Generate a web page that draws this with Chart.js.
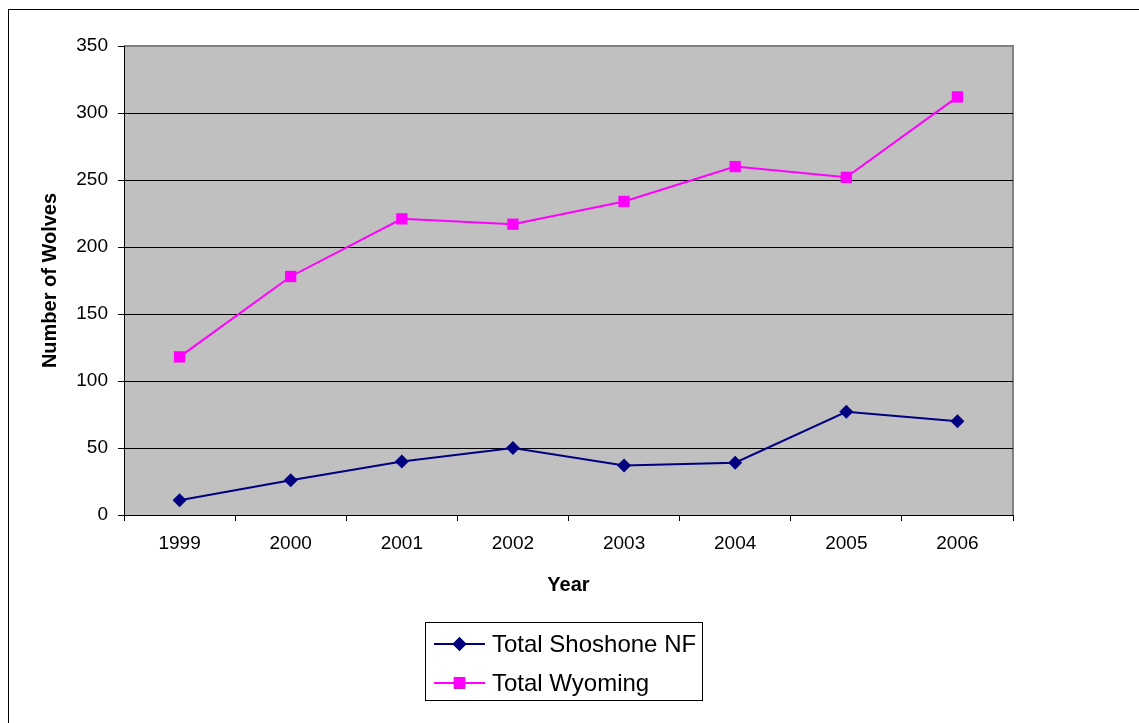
<!DOCTYPE html>
<html>
<head>
<meta charset="utf-8">
<title>Wolf counts</title>
<script src="https://cdn.jsdelivr.net/npm/chart.js@4"></script>
<style>
  html, body { margin: 0; padding: 0; background: #fff; overflow: hidden; }
  #wrap { position: relative; width: 1139px; height: 723px; }
</style>
</head>
<body>
<div id="wrap"><canvas id="wolfChart" width="1139" height="723"></canvas></div>
<script>
const years = ["1999", "2000", "2001", "2002", "2003", "2004", "2005", "2006"];
const shoshone = [11, 26, 40, 50, 37, 39, 77, 70];
const wyoming = [118, 178, 221, 217, 234, 260, 252, 312];
const yTicks = [0, 50, 100, 150, 200, 250, 300, 350];

const FONT = "'Liberation Sans', Arial, sans-serif";
const NAVY = "#000080";
const PINK = "#FF00FF";

// grey plot background plus the grey top/right frame
const plotArea = {
    id: "plotArea",
    beforeDraw(chart) {
        const { ctx, chartArea: a } = chart;
        ctx.save();
        ctx.fillStyle = "#C0C0C0";
        ctx.fillRect(a.left, a.top, a.right - a.left, a.bottom - a.top);
        ctx.strokeStyle = "#808080";
        ctx.lineWidth = 2;
        ctx.beginPath();
        ctx.moveTo(a.left, a.top);
        ctx.lineTo(a.right, a.top);
        ctx.lineTo(a.right, a.bottom);
        ctx.stroke();
        ctx.restore();
    }
};

// boxed legend under the axis + outer frame
const boxLegend = {
    id: "boxLegend",
    afterDraw(chart) {
        const ctx = chart.ctx;
        ctx.save();
        ctx.strokeStyle = "#000";
        ctx.lineWidth = 1;
        ctx.strokeRect(8.5, 9.5, 1200, 800);
        ctx.strokeRect(425.5, 622.5, 277, 78);

        const rows = [644, 683];
        chart.data.datasets.forEach((ds, i) => {
            const y = rows[i];
            ctx.strokeStyle = ds.borderColor;
            ctx.lineWidth = 2;
            ctx.beginPath();
            ctx.moveTo(434, y);
            ctx.lineTo(485, y);
            ctx.stroke();
            Chart.helpers.drawPoint(ctx, {
                pointStyle: ds.pointStyle,
                radius: ds.pointRadius,
                rotation: 0,
                borderWidth: 0
            }, 459.5, y);
            ctx.fillStyle = ds.pointBackgroundColor;
            ctx.fill();
            ctx.fillStyle = "#000";
            ctx.font = "24px " + FONT;
            ctx.textAlign = "left";
            ctx.textBaseline = "middle";
            ctx.fillText(ds.label, 492, y + 1);
        });
        ctx.restore();
    }
};

new Chart(document.getElementById("wolfChart"), {
    type: "line",
    data: {
        labels: years,
        datasets: [
            {
                label: "Total Shoshone NF",
                data: shoshone,
                borderColor: NAVY,
                backgroundColor: NAVY,
                pointBackgroundColor: NAVY,
                pointBorderColor: NAVY,
                pointStyle: "rectRot",
                pointRadius: 7,
                pointBorderWidth: 0,
                borderWidth: 2,
                tension: 0
            },
            {
                label: "Total Wyoming",
                data: wyoming,
                borderColor: PINK,
                backgroundColor: PINK,
                pointBackgroundColor: PINK,
                pointBorderColor: PINK,
                pointStyle: "rect",
                pointRadius: 8,
                pointBorderWidth: 0,
                borderWidth: 2,
                tension: 0
            }
        ]
    },
    options: {
        responsive: false,
        animation: false,
        events: [],
        layout: { padding: { top: 46, right: 126, left: 0, bottom: 0 } },
        plugins: {
            legend: { display: false },
            tooltip: { enabled: false }
        },
        scales: {
            x: {
                type: "category",
                offset: true,
                afterFit(scale) { scale.height = 208; },
                grid: {
                    offset: true,
                    drawOnChartArea: false,
                    drawTicks: true,
                    tickLength: 6,
                    color: "#000",
                    tickColor: "#000"
                },
                border: { display: true, color: "#000", width: 1 },
                ticks: {
                    color: "#000",
                    padding: 11,
                    maxRotation: 0,
                    font: { family: FONT, size: 19 }
                },
                title: {
                    display: true,
                    text: "Year",
                    color: "#000",
                    font: { family: FONT, size: 20, weight: "bold" },
                    padding: { top: 0, bottom: 126 }
                }
            },
            y: {
                min: 0,
                max: 350,
                afterFit(scale) { scale.width = 124; },
                afterBuildTicks(scale) {
                    scale.ticks = yTicks.map(v => ({ value: v }));
                },
                grid: {
                    color: ctx => (ctx.tick && ctx.tick.value === 350) ? "rgba(0,0,0,0)" : "#000",
                    tickColor: "#000",
                    tickLength: 6,
                    lineWidth: 1
                },
                border: { display: true, color: "#000", width: 1 },
                ticks: {
                    color: "#000",
                    padding: 10,
                    font: { family: FONT, size: 19 }
                },
                title: {
                    display: true,
                    text: "Number of Wolves",
                    color: "#000",
                    font: { family: FONT, size: 20, weight: "bold" },
                    padding: { top: 38, bottom: 0 }
                }
            }
        }
    },
    plugins: [plotArea, boxLegend]
});
</script>
</body>
</html>
